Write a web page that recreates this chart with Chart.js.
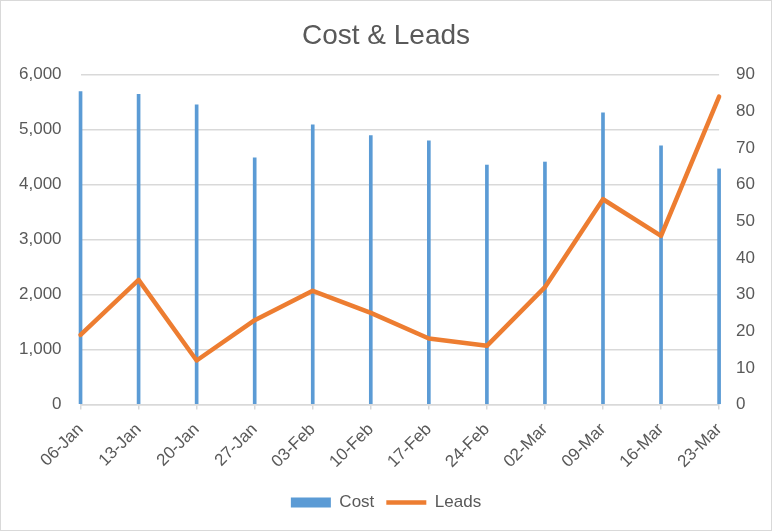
<!DOCTYPE html>
<html>
<head>
<meta charset="utf-8">
<script src="https://cdn.jsdelivr.net/npm/chart.js@4"></script>
<style>
  html, body { margin: 0; padding: 0; background: #fff; }
  #wrap { width: 772px; height: 531px; }
</style>
</head>
<body>
<div id="wrap"><canvas id="chart" width="772" height="531"></canvas></div>
<script>
// ── Data ────────────────────────────────────────────────
const weeks = ['06-Jan','13-Jan','20-Jan','27-Jan','03-Feb','10-Feb',
               '17-Feb','24-Feb','02-Mar','09-Mar','16-Mar','23-Mar'];
const cost  = [5690, 5640, 5450, 4485, 5085, 4890, 4795, 4355, 4410, 5305, 4705, 4285];
const leads = [19, 34, 12, 23, 31, 25, 18, 16, 32, 56, 46, 84];

const costTicks  = { min: 0, max: 6000, step: 1000 };
const leadsTicks = { min: 0, max: 90,   step: 10 };

// ── Shared styles ───────────────────────────────────────
const textColor = '#595959';
const gridColor = '#d9d9d9';
const blue      = '#5b9bd5';
const orange    = '#ed7d31';

Chart.defaults.font.family = "'Liberation Sans', Arial, sans-serif";
Chart.defaults.color = textColor;

// white background + thin outer frame
const frame = {
  id: 'frame',
  beforeDraw(chart) {
    const { ctx, width, height } = chart;
    ctx.save();
    ctx.fillStyle = '#fff';
    ctx.fillRect(0, 0, width, height);
    ctx.strokeStyle = gridColor;
    ctx.lineWidth = 1;
    ctx.strokeRect(0.5, 0.5, width - 1, height - 1);
    ctx.restore();
  },
};

new Chart(document.getElementById('chart'), {
  type: 'bar',
  data: {
    labels: weeks,
    datasets: [
      {
        type: 'bar',
        label: 'Cost',
        data: cost,
        yAxisID: 'y',
        backgroundColor: blue,
        borderWidth: 0,
        barThickness: 3,
        pointStyle: 'rect',
        clip: false,
        order: 1,
      },
      {
        type: 'line',
        label: 'Leads',
        data: leads,
        yAxisID: 'y1',
        borderColor: orange,
        backgroundColor: orange,
        borderWidth: 4.5,
        borderCapStyle: 'round',
        borderJoinStyle: 'round',
        pointRadius: 0,
        tension: 0,
        pointStyle: 'line',
        clip: false,
        order: 0,
      },
    ],
  },
  options: {
    responsive: false,
    animation: false,
    devicePixelRatio: 1,
    layout: { padding: { left: 0, right: 0, top: 0, bottom: 10 } },
    plugins: {
      title: {
        display: true,
        text: 'Cost & Leads',
        color: textColor,
        font: { size: 28, weight: 'normal' },
        padding: { top: 19, bottom: 22 },
      },
      legend: {
        position: 'bottom',
        labels: {
          usePointStyle: true,
          pointStyleWidth: 40,
          boxHeight: 10,
          padding: 12,
          color: textColor,
          font: { size: 17 },
          sort: (a, b) => a.datasetIndex - b.datasetIndex,
        },
      },
      tooltip: { enabled: false },
    },
    scales: {
      x: {
        offset: false,
        grid: {
          offset: false,
          drawOnChartArea: false,
          drawTicks: true,
          tickLength: 5,
          color: gridColor,
          lineWidth: 1.5,
        },
        border: { color: gridColor, width: 1.5 },
        ticks: {
          autoSkip: false,
          maxRotation: 45,
          minRotation: 45,
          padding: 10,
          color: textColor,
          font: { size: 17 },
        },
      },
      y: {
        position: 'left',
        min: costTicks.min, max: costTicks.max,
        ticks: {
          stepSize: costTicks.step,
          padding: 19,
          color: textColor,
          font: { size: 17 },
          callback: v => v.toLocaleString('en-US'),
        },
        grid: { color: gridColor, lineWidth: 1.5, drawTicks: false },
        border: { display: false },
      },
      y1: {
        position: 'right',
        min: leadsTicks.min, max: leadsTicks.max,
        ticks: {
          stepSize: leadsTicks.step,
          padding: 17,
          color: textColor,
          font: { size: 17 },
        },
        grid: { drawOnChartArea: false, drawTicks: false },
        border: { display: false },
      },
    },
  },
  plugins: [frame],
});
</script>
</body>
</html>
